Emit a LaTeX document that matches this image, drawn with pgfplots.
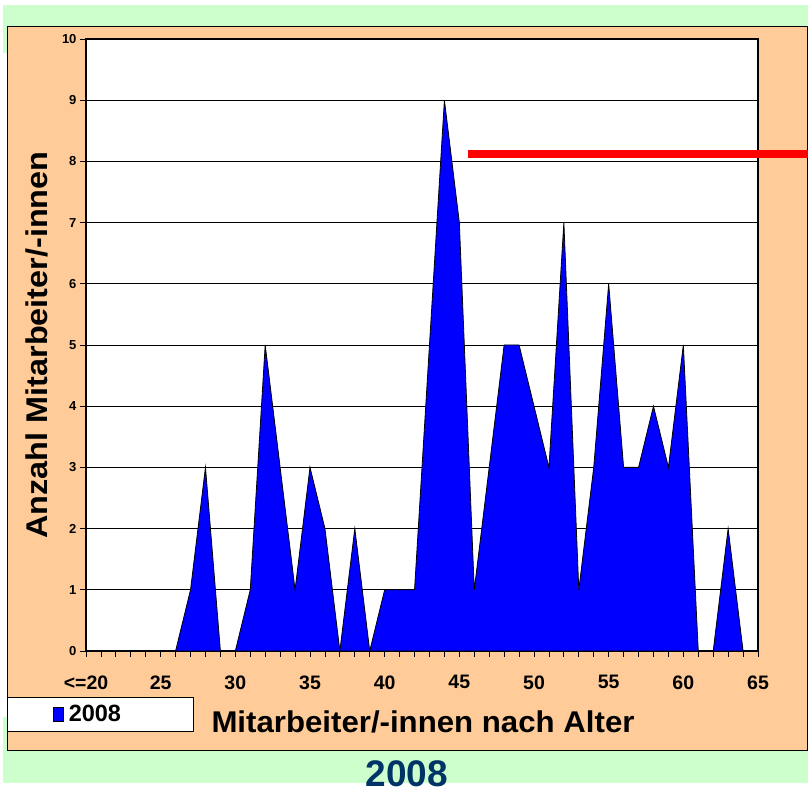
\documentclass[border=0pt]{standalone}
\usepackage{pgfplots}
\pgfplotsset{compat=1.18}
\usepackage{fontspec}
\setmainfont{Liberation Sans}
\definecolor{greenbg}{RGB}{204,255,204}
\definecolor{peach}{RGB}{255,204,153}
\definecolor{navy}{RGB}{0,51,102}
\begin{document}
\begin{tikzpicture}[x=1pt,y=1pt]
\useasboundingbox (0,0) rectangle (808,794);
\fill[greenbg] (3,741) rectangle (808,789);
\fill[greenbg] (3,11) rectangle (808,77);
\filldraw[fill=peach, draw=black, line width=1pt] (7,43) rectangle (807,767);
\draw[fill=white, draw=black, line width=0.8pt] (7,63) rectangle (193,97);
\begin{axis}[
  at={(86pt,143pt)}, anchor=south west,
  scale only axis, width=672pt, height=612pt,
  xmin=20, xmax=65, ymin=0, ymax=10,
  clip=false,
  axis background/.style={fill=white},
  axis line style={black, line width=1.2pt},
  xtick={20,25,...,65},
  xticklabels={{<=20},25,30,35,40,45,50,55,60,65},
  minor xtick={21,...,64},
  ytick={0,...,10},
  tick align=outside,
  major tick length=6pt, minor tick length=6pt,
  tick style={black, line width=0.8pt},
  xtick pos=bottom, ytick pos=left,
  ymajorgrids, grid style={black, line width=0.8pt},
  /pgf/number format/assume math mode=true,
  yticklabel style={font=\bfseries\fontsize{13}{13}\selectfont},
  xticklabel style={font=\bfseries\fontsize{19.5}{19.5}\selectfont, yshift=-15pt},
  legend style={at={(axis description cs:-0.049,-0.1029)}, anchor=west, draw=none, fill=none,
     font=\bfseries\fontsize{23.5}{23.5}\selectfont, inner sep=0pt,
     nodes={inner xsep=5pt, inner ysep=0pt}},
  legend image code/.code={\draw[fill=blue, draw=black, line width=0.5pt] (0pt,-7pt) rectangle (10pt,7pt);},
]
\addplot[fill=blue, draw=black, line width=0.8pt] coordinates {
(20,0) (21,0) (22,0) (23,0) (24,0) (25,0) (26,0) (27,1) (28,3) (29,0)
(30,0) (31,1) (32,5) (33,3) (34,1) (35,3) (36,2) (37,0) (38,2) (39,0)
(40,1) (41,1) (42,1) (43,5) (44,9) (45,7) (46,1) (47,3) (48,5) (49,5)
(50,4) (51,3) (52,7) (53,1) (54,3) (55,6) (56,3) (57,3) (58,4) (59,3)
(60,5) (61,0) (62,0) (63,2) (64,0) (65,0)} \closedcycle;
\addlegendentry{2008}
\addplot[red, line width=8.5pt, forget plot] coordinates {(45.58,8.12) (68.4,8.12)};
\end{axis}
\node[rotate=90, font=\bfseries\fontsize{30}{30}\selectfont] at (37,449) {\scalebox{1.08}[1]{Anzahl Mitarbeiter/-innen}};
\node[font=\bfseries\fontsize{30}{30}\selectfont] at (423,72) {\scalebox{1.04}[1]{Mitarbeiter/-innen nach Alter}};
\node[font=\bfseries\fontsize{37}{37}\selectfont, text=navy, inner sep=0pt] at (407,20) {2008};
\end{tikzpicture}
\end{document}
